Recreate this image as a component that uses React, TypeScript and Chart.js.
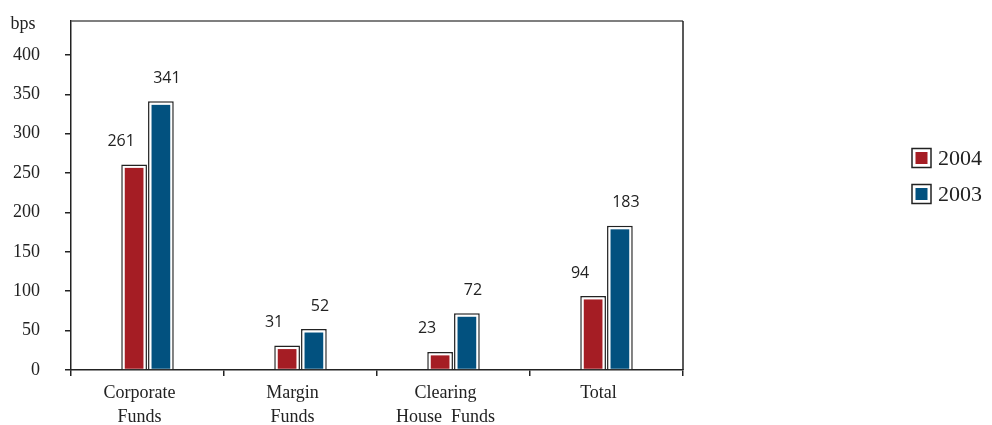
import React, { useEffect, useRef } from "react";
import { Chart, registerables } from "chart.js";

Chart.register(...registerables);

const categories: string[][] = [
  ["Corporate", "Funds"],
  ["Margin", "Funds"],
  ["Clearing", "House  Funds"],
  ["Total"],
];
const seriesNames = ["2004", "2003"];
const values2004 = [261, 31, 23, 94];
const values2003 = [341, 52, 72, 183];
const yTickValues = [0, 50, 100, 150, 200, 250, 300, 350, 400];
const yUnit = "bps";
const seriesColors = ["#a51d24", "#02517f"];

const INK = "#222222";
const SERIF = "'Liberation Serif', 'DejaVu Serif', serif";
const SANS = "'Open Sans', 'DejaVu Sans', sans-serif";

const decorPlugin = {
  id: "decor",
  afterDatasetsDraw(chart: any) {
    const ctx = chart.ctx;
    ctx.save();
    chart.data.datasets.forEach((ds: any, di: number) => {
      const meta = chart.getDatasetMeta(di);
      meta.data.forEach((el: any, i: number) => {
        const p = el.getProps(["x", "y", "base", "width"], true);
        const inset = 3.5;
        ctx.fillStyle = seriesColors[di];
        ctx.fillRect(
          p.x - p.width / 2 + inset,
          p.y + inset,
          p.width - inset * 2,
          p.base - p.y - inset - 0.5
        );
        ctx.fillStyle = INK;
        ctx.font = `16px ${SANS}`;
        ctx.textAlign = "center";
        ctx.textBaseline = "middle";
        const dx = di === 0 ? -13 : 6;
        ctx.fillText(String(ds.data[i]), p.x + dx, p.y - 23);
      });
    });
    ctx.restore();
  },
  afterDraw(chart: any) {
    const ctx = chart.ctx;
    const a = chart.chartArea;
    ctx.save();
    ctx.lineWidth = 1.5;
    ctx.strokeStyle = "#555555";
    ctx.beginPath();
    ctx.moveTo(a.left, a.top);
    ctx.lineTo(a.right, a.top);
    ctx.stroke();
    ctx.strokeStyle = INK;
    ctx.beginPath();
    ctx.moveTo(a.right, a.top);
    ctx.lineTo(a.right, a.bottom);
    ctx.stroke();
    ctx.fillStyle = INK;
    ctx.font = `18px ${SERIF}`;
    ctx.textAlign = "center";
    ctx.textBaseline = "middle";
    ctx.fillText(yUnit, 23, 24);
    const lx = 912;
    const ys = [158, 194];
    const box = 19;
    seriesNames.forEach((name, i) => {
      const cy = ys[i];
      ctx.fillStyle = "#ffffff";
      ctx.fillRect(lx, cy - box / 2, box, box);
      ctx.strokeStyle = INK;
      ctx.lineWidth = 1.5;
      ctx.strokeRect(lx, cy - box / 2, box, box);
      ctx.fillStyle = seriesColors[i];
      ctx.fillRect(lx + 3.5, cy - box / 2 + 3.5, box - 7, box - 7);
      ctx.fillStyle = INK;
      ctx.font = `22px ${SERIF}`;
      ctx.textAlign = "left";
      ctx.textBaseline = "middle";
      ctx.fillText(name, lx + 26, cy + 1);
    });
    ctx.restore();
  },
};

export default function App() {
  const ref = useRef<HTMLCanvasElement | null>(null);
  useEffect(() => {
    if (!ref.current) return;
    const chart = new Chart(ref.current, {
      type: "bar",
      data: {
        labels: categories,
        datasets: [
          {
            label: seriesNames[0],
            data: values2004,
            backgroundColor: "#ffffff",
            borderColor: INK,
            borderWidth: 1.5,
            borderSkipped: "start",
            categoryPercentage: 0.35,
            barPercentage: 0.96,
          },
          {
            label: seriesNames[1],
            data: values2003,
            backgroundColor: "#ffffff",
            borderColor: INK,
            borderWidth: 1.5,
            borderSkipped: "start",
            categoryPercentage: 0.35,
            barPercentage: 0.96,
          },
        ],
      },
      options: {
        responsive: false,
        animation: false,
        devicePixelRatio: 1,
        layout: { padding: { left: 0, right: 309, top: 21, bottom: 0 } },
        plugins: {
          legend: { display: false },
          tooltip: { enabled: false },
          title: { display: false },
        },
        scales: {
          x: {
            type: "category",
            offset: true,
            grid: {
              offset: true,
              drawOnChartArea: false,
              tickLength: 6,
              color: INK,
              lineWidth: 1.5,
            },
            border: { color: INK, width: 1.5 },
            ticks: {
              color: INK,
              font: { family: SERIF, size: 18, lineHeight: 1.33 },
              padding: 5,
              labelOffset: -8,
              maxRotation: 0,
              autoSkip: false,
            },
            afterFit: (s: any) => {
              s.height = 55;
              s.paddingLeft = 0;
              s.paddingRight = 0;
              s.paddingTop = 0;
              s.paddingBottom = 0;
            },
          },
          y: {
            min: 0,
            max: 443,
            grid: {
              drawOnChartArea: false,
              tickLength: 6,
              color: INK,
              lineWidth: 1.5,
            },
            border: { color: INK, width: 1.5 },
            ticks: {
              stepSize: 50,
              color: INK,
              font: { family: SERIF, size: 18 },
              padding: 25,
            },
            afterBuildTicks: (s: any) => {
              s.ticks = yTickValues.map((v) => ({ value: v }));
            },
            afterFit: (s: any) => {
              s.width = 71;
              s.paddingTop = 0;
              s.paddingBottom = 0;
              s.paddingLeft = 0;
              s.paddingRight = 0;
            },
          },
        },
      },
      plugins: [decorPlugin],
    } as any);
    return () => chart.destroy();
  }, []);
  return (
    <div style={{ position: "absolute", left: 0, top: 0, width: 992, height: 425, background: "#ffffff" }}>
      <canvas ref={ref} width={992} height={425} />
    </div>
  );
}
